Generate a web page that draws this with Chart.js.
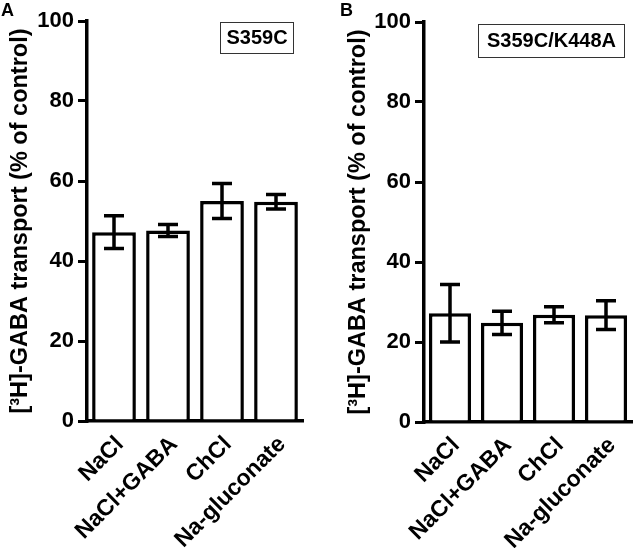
<!DOCTYPE html>
<html><head><meta charset="utf-8">
<script src="https://cdn.jsdelivr.net/npm/chart.js@4"></script>
<style>
body{margin:0;background:#fff;font-family:"Liberation Sans",Arial,sans-serif;}
#wrap{position:relative;width:633px;height:548px;overflow:hidden;}
canvas{position:absolute;top:0;}
.lbl{position:absolute;font-weight:bold;font-size:18px;line-height:1;}
.box{position:absolute;border:1.5px solid #333;font-weight:bold;font-size:20px;text-align:center;box-sizing:border-box;}
</style></head>
<body>
<div id="wrap">
  <canvas id="chartA" width="316" height="548" style="left:0"></canvas>
  <canvas id="chartB" width="317" height="548" style="left:316px"></canvas>
  <div class="lbl" style="left:1px;top:1px">A</div>
  <div class="lbl" style="left:340px;top:1px">B</div>
  <div class="box" style="left:220px;top:22px;width:74px;height:32px;line-height:29px">S359C</div>
  <div class="box" style="left:478px;top:24px;width:147px;height:34px;line-height:31px">S359C/K448A</div>
</div>
<script>
// Werte
const categories = ['NaCl','NaCl+GABA','ChCl','Na-gluconate'];
const valuesA = [47.2, 47.6, 55.0, 54.8];
const errorsA = [4.1, 1.5, 4.4, 1.8];
const valuesB = [27.2, 24.8, 26.8, 26.7];
const errorsB = [7.2, 2.9, 2.0, 3.6];
const yTicks  = [0, 20, 40, 60, 80, 100];
const yTitle  = '[³H]-GABA transport (% of control)';

const FONT = "'Liberation Sans', Arial, sans-serif";

// Fehlerbalken (SEM) ueber die y-Skala zeichnen
const errorBars = {
  id:'errorBars',
  afterDatasetsDraw(chart, args, opts){
    const {ctx, scales:{y}} = chart;
    const meta = chart.getDatasetMeta(0);
    const vals = chart.data.datasets[0].data;
    const w = opts.capWidth/2;
    ctx.save();
    ctx.strokeStyle = '#000'; ctx.lineWidth = 3.5;
    meta.data.forEach((bar,i)=>{
      const yt = y.getPixelForValue(vals[i]+opts.errors[i]);
      const yb = y.getPixelForValue(vals[i]-opts.errors[i]);
      ctx.beginPath();
      ctx.moveTo(bar.x, yt);   ctx.lineTo(bar.x, yb);
      ctx.moveTo(bar.x-w, yt); ctx.lineTo(bar.x+w, yt);
      ctx.moveTo(bar.x-w, yb); ctx.lineTo(bar.x+w, yb);
      ctx.stroke();
    });
    ctx.restore();
  }
};

function makeChart(id, values, errors, o){
  const bold = size => ({family:FONT, size, weight:'bold'});
  return new Chart(document.getElementById(id), {
    type:'bar',
    data:{
      labels: categories,
      datasets:[{
        data: values,
        backgroundColor:'#fff', borderColor:'#000', borderWidth:3.5,
        categoryPercentage:1, barPercentage:0.81
      }]
    },
    options:{
      responsive:false, animation:false,
      layout:{ padding:{ top:o.top, right:o.right, left:0, bottom:0 } },
      plugins:{ legend:{display:false}, tooltip:{enabled:false}, errorBars:{errors, capWidth:20} },
      scales:{
        x:{
          grid:{display:false},
          border:{display:true, color:'#000', width:3.5},
          ticks:{ color:'#000', font:bold(23), minRotation:45, maxRotation:45, autoSkip:false, padding:2, labelOffset:6 },
          afterFit: s => { s.height = 548 - o.bottom; }
        },
        y:{
          min:0, max:100,
          afterBuildTicks: s => { s.ticks = yTicks.map(v=>({value:v})); },
          grid:{ drawOnChartArea:false, color:'#000', lineWidth:3, tickLength:9, tickWidth:3, tickColor:'#000' },
          border:{ display:true, color:'#000', width:3.5 },
          ticks:{ color:'#000', font:bold(22), padding:4 },
          title:{ display:true, text:yTitle, color:'#000', font:bold(23.5), padding:{top:o.tp, bottom:0} },
          afterFit: s => { s.width = o.yw; }
        }
      }
    },
    plugins:[errorBars]
  });
}

makeChart('chartA', valuesA, errorsA, {top:21, right:13, bottom:421, yw:87, tp:6});
makeChart('chartB', valuesB, errorsB, {top:22, right:1, bottom:422, yw:108, tp:28});
</script>
</body></html>
